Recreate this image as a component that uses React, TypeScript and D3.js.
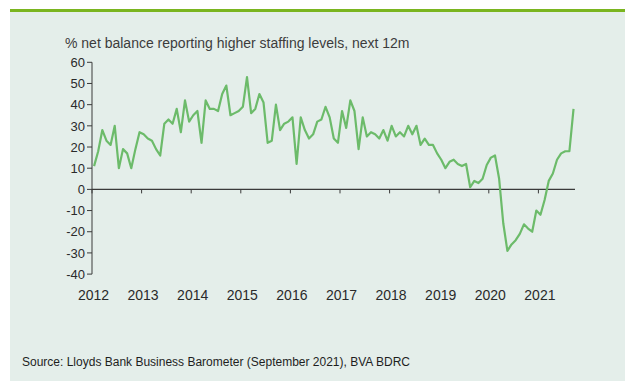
import React from "react";
import * as d3 from "d3";

const title = "% net balance reporting higher staffing levels, next 12m";
const source = "Source: Lloyds Bank Business Barometer (September 2021), BVA BDRC";
const startYear = 2012;
const yearLabels = ["2012", "2013", "2014", "2015", "2016", "2017", "2018", "2019", "2020", "2021"];
const yTicks = [60, 50, 40, 30, 20, 10, 0, -10, -20, -30, -40];
// Monthly values, Jan 2012 – Sep 2021
const values = [
  11, 18, 28, 23, 21, 30, 10, 19, 17, 10, 19, 27,
  26, 24, 23, 19, 16, 31, 33, 31, 38, 27, 42, 32,
  35, 37, 22, 42, 38, 38, 37, 45, 49, 35, 36, 37,
  39, 53, 36, 38, 45, 41, 22, 23, 40, 28, 31, 32,
  34, 12, 34, 28, 24, 26, 32, 33, 39, 34, 24, 22,
  37, 29, 42, 37, 19, 34, 25, 27, 26, 24, 28, 23,
  30, 25, 27, 25, 30, 26, 30, 21, 24, 21, 21, 17,
  14, 10, 13, 14, 12, 11, 12, 1, 4, 3, 5, 11.5,
  15, 16, 5, -16, -29, -26, -24, -21, -16.5, -18.5, -20, -10,
  -12, -5, 4, 7.5, 14, 17, 18, 18, 38,
];

export default function App() {
  const W = 625;
  const H = 381;
  const x = d3.scaleLinear().domain([startYear, startYear + 10]).range([92, 588]);
  const y = d3.scaleLinear().domain([-40, 60]).range([274.1, 62.3]);
  const pts: [number, number][] = values.map((v, i) => [startYear + (i + 0.5) / 12, v]);
  const line = d3
    .line<[number, number]>()
    .x((d) => x(d[0]))
    .y((d) => y(d[1]));
  const axisColor = "#3a3a3a";
  const font = "'Liberation Sans', Arial, sans-serif";
  const x0 = x(startYear);
  const y0 = y(0);
  return (
    <svg
      width={W}
      height={H}
      style={{ position: "absolute", left: 0, top: 0 }}
      fontFamily={font}
    >
      <rect x={0} y={0} width={W} height={H} fill="#ffffff" />
      <rect x={10} y={12} width={W - 10} height={H - 12} fill="#e4eeea" />
      <rect x={10} y={9} width={W - 10} height={3} fill="#7ab51f" />
      <text x={65} y={48} fontSize={14} fill="#3c3c3c">
        {title}
      </text>
      {/* y axis */}
      <line x1={x0} x2={x0} y1={y(60)} y2={y(-40)} stroke={axisColor} strokeWidth={1} />
      {yTicks.map((t) => (
        <g key={t}>
          <line x1={x0 - 5} x2={x0} y1={y(t)} y2={y(t)} stroke={axisColor} />
          <text
            x={85}
            y={y(t)}
            dy="0.36em"
            textAnchor="end"
            fontSize={13}
            fill="#2a2a2a"
          >
            {t}
          </text>
        </g>
      ))}
      {/* x axis */}
      <line x1={x0} x2={575} y1={y0} y2={y0} stroke={axisColor} strokeWidth={1.2} />
      {yearLabels.map((lab, i) => (
        <g key={lab}>
          <line
            x1={x(startYear + i)}
            x2={x(startYear + i)}
            y1={y0}
            y2={y0 + 4}
            stroke={axisColor}
          />
          <text
            x={x(startYear + i) + 1.5}
            y={300}
            textAnchor="middle"
            fontSize={14}
            fill="#2a2a2a"
          >
            {lab}
          </text>
        </g>
      ))}
      <path
        d={line(pts) || ""}
        fill="none"
        stroke="#6cbb6a"
        strokeWidth={2.2}
        strokeLinejoin="round"
      />
      <text x={22} y={366} fontSize={12} fill="#1e1e1e">
        {source}
      </text>
    </svg>
  );
}
